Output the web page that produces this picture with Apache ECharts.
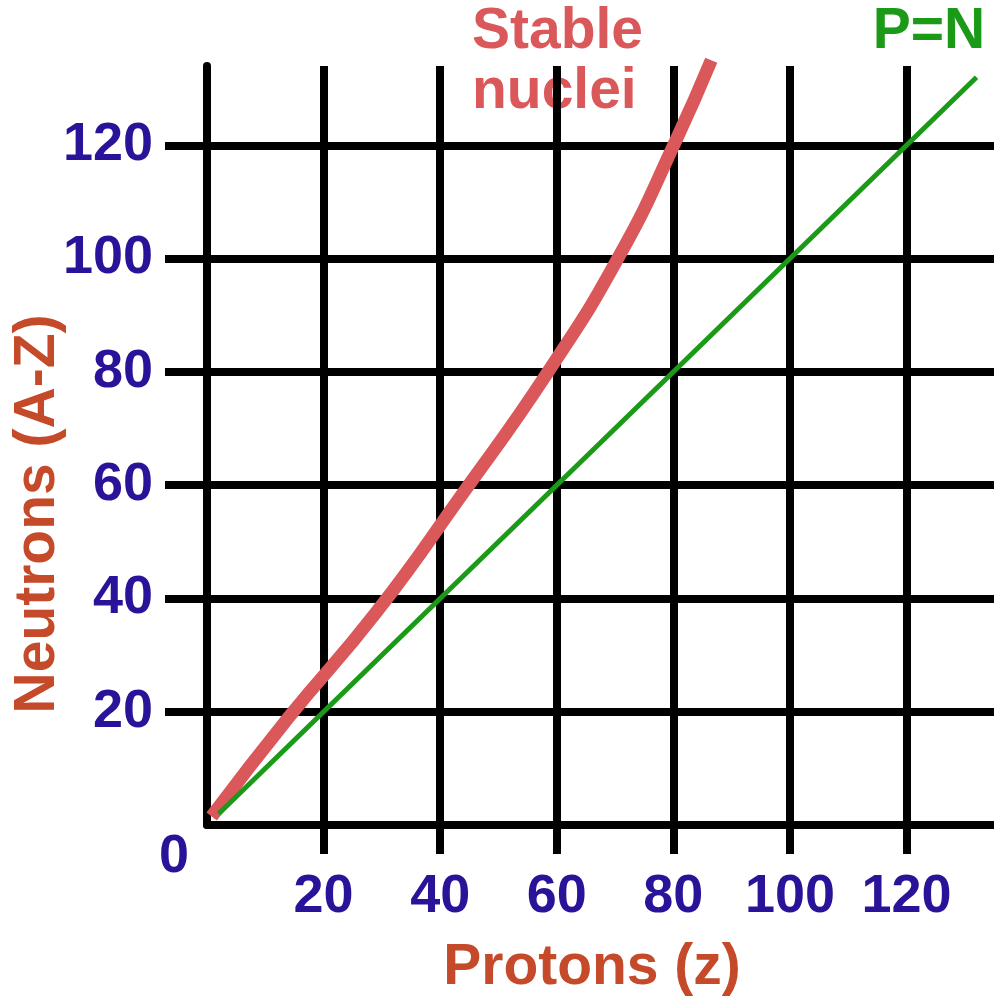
<!DOCTYPE html>
<html>
<head>
<meta charset="utf-8">
<script src="https://cdn.jsdelivr.net/npm/echarts@6/dist/echarts.min.js"></script>
<style>
html,body{margin:0;padding:0;background:#fff;}
#chart{width:994px;height:1001px;}
</style>
</head>
<body>
<div id="chart"></div>
<script>
// ---- data ----
const xTickValues = [20, 40, 60, 80, 100, 120];
const yTickValues = [20, 40, 60, 80, 100, 120];
const stableZ = [0.8, 14, 29, 43.5, 58.5, 71, 80.5, 86.5];
const stableN = [1.5, 19, 37.5, 58, 80, 101, 121, 135];
const pnZ = [2, 132];
const pnN = [2, 132];
const stableLabel = 'Stable\nnuclei';
const pnLabel = 'P=N';
const xTitle = 'Protons (z)';
const yTitle = 'Neutrons (A-Z)';
const originLabel = '0';

const FONT = '"Liberation Sans", Arial, sans-serif';
const LABEL_BLUE = '#2a1299';
const TITLE_RED = '#c44a2a';
const CURVE_RED = '#da575a';
const GREEN = '#1a9a16';

const chart = echarts.init(document.getElementById('chart'), null, {renderer: 'canvas'});
const lineStyleBlack = {color: '#000', width: 8};

chart.setOption({
  animation: false,
  backgroundColor: '#fff',
  grid: {left: 207, right: 0, top: 66, bottom: 176, containLabel: false},
  xAxis: {
    type: 'value', min: 0, max: 135, interval: 20,
    axisLine: {show: true, onZero: false, lineStyle: lineStyleBlack},
    axisTick: {show: true, length: 29, lineStyle: lineStyleBlack, customValues: xTickValues},
    axisLabel: {show: true, customValues: xTickValues, color: LABEL_BLUE, fontSize: 54, fontWeight: 'bold', fontFamily: FONT, margin: 45},
    splitLine: {show: true, showMinLine: true, showMaxLine: true, lineStyle: lineStyleBlack}
  },
  yAxis: {
    type: 'value', min: 0, max: 134, interval: 20,
    axisLine: {show: true, onZero: false, lineStyle: lineStyleBlack},
    axisTick: {show: true, length: 42, lineStyle: lineStyleBlack, customValues: yTickValues},
    axisLabel: {show: true, customValues: yTickValues, color: LABEL_BLUE, fontSize: 54, fontWeight: 'bold', fontFamily: FONT, margin: 54},
    splitLine: {show: true, showMinLine: true, showMaxLine: true, lineStyle: lineStyleBlack}
  },
  series: [
    {
      type: 'line', name: 'Stable nuclei', clip: false, smooth: 0.5, symbol: 'none',
      data: stableZ.map((z, i) => [z, stableN[i]]),
      lineStyle: {color: CURVE_RED, width: 13, cap: 'butt'},
      z: 3
    },
    {
      type: 'line', name: 'P=N', clip: false, symbol: 'none',
      data: pnZ.map((z, i) => [z, pnN[i]]),
      lineStyle: {color: GREEN, width: 5},
      z: 4
    }
  ],
  graphic: [
    {type: 'text', x: 472, y: 62, style: {text: stableLabel, fill: CURVE_RED, font: 'bold 57px ' + FONT, lineHeight: 60, align: 'left', verticalAlign: 'middle'}},
    {type: 'text', x: 929, y: 32, style: {text: pnLabel, fill: GREEN, font: 'bold 57px ' + FONT, align: 'center', verticalAlign: 'middle'}},
    {type: 'text', x: 174, y: 857, style: {text: originLabel, fill: LABEL_BLUE, font: 'bold 54px ' + FONT, align: 'center', verticalAlign: 'middle'}},
    {type: 'text', x: 592, y: 968, style: {text: xTitle, fill: TITLE_RED, font: 'bold 57px ' + FONT, align: 'center', verticalAlign: 'middle'}},
    {type: 'text', x: 38, y: 514, rotation: Math.PI / 2, style: {text: yTitle, fill: TITLE_RED, font: 'bold 57px ' + FONT, align: 'center', verticalAlign: 'middle'}}
  ]
});
</script>
</body>
</html>
